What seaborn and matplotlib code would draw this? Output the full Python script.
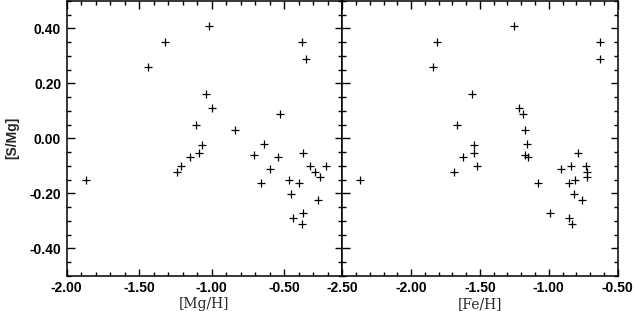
import matplotlib
matplotlib.use("Agg")
import matplotlib.pyplot as plt
import seaborn as sns
import pandas as pd
from matplotlib.ticker import MultipleLocator, FormatStrFormatter

# star-by-star abundances
mg_h = [-1.02, -1.32, -0.38, -0.35, -1.44, -1.04, -1.00, -0.53, -1.11, -0.84,
        -0.64, -1.07, -1.09, -0.37, -0.71, -1.15, -0.54, -1.21, -0.32, -0.21,
        -0.60, -1.24, -0.29, -0.25, -1.87, -0.47, -0.66, -0.40, -0.45, -0.27,
        -0.37, -0.44, -0.38]
fe_h = [-1.25, -1.81, -0.63, -0.63, -1.84, -1.56, -1.22, -1.19, -1.67, -1.17,
        -1.16, -1.54, -1.54, -0.79, -1.17, -1.62, -1.15, -1.52, -0.84, -0.73,
        -0.91, -1.69, -0.72, -0.72, -2.37, -0.81, -1.08, -0.85, -0.82, -0.76,
        -0.99, -0.85, -0.83]
s_mg = [0.41, 0.35, 0.35, 0.29, 0.26, 0.16, 0.11, 0.09, 0.05, 0.03,
        -0.021, -0.026, -0.052, -0.052, -0.059, -0.068, -0.068, -0.101, -0.101, -0.101,
        -0.110, -0.121, -0.121, -0.140, -0.150, -0.150, -0.161, -0.164, -0.201, -0.225,
        -0.270, -0.291, -0.310]

df = pd.DataFrame({"[Mg/H]": mg_h, "[Fe/H]": fe_h, "[S/Mg]": s_mg})

sns.set_style("ticks")
plt.rcParams['font.family'] = ['Liberation Sans', 'DejaVu Sans']

fig = plt.figure(figsize=(6.36, 3.11), dpi=100)
left, right, bottom, top = 0.1049, 0.9712, 0.1132, 0.9975
w = (right - left) / 2
ax1 = fig.add_axes([left, bottom, w, top - bottom])
ax2 = fig.add_axes([left + w, bottom, w, top - bottom], sharey=ax1)

sns.scatterplot(data=df, x="[Mg/H]", y="[S/Mg]", marker="+", color="black",
                s=34, linewidth=0.9, ax=ax1)
sns.scatterplot(data=df, x="[Fe/H]", y="[S/Mg]", marker="+", color="black",
                s=34, linewidth=0.9, ax=ax2)

ax1.set_xlim(-2.0, -0.1)
ax2.set_xlim(-2.5, -0.5)
ax1.set_ylim(-0.5, 0.5)

for ax in (ax1, ax2):
    ax.xaxis.set_major_locator(MultipleLocator(0.5))
    ax.xaxis.set_minor_locator(MultipleLocator(0.1))
    ax.yaxis.set_major_locator(MultipleLocator(0.2))
    ax.yaxis.set_minor_locator(MultipleLocator(0.05))
    ax.xaxis.set_major_formatter(FormatStrFormatter("%.2f"))
    ax.yaxis.set_major_formatter(FormatStrFormatter("%.2f"))
    ax.tick_params(which="both", direction="in", top=True, right=True,
                   width=1.0, colors="black")
    ax.tick_params(which="major", length=5.4, pad=4)
    ax.tick_params(which="minor", length=3.1)
    for lab in ax.get_xticklabels() + ax.get_yticklabels():
        lab.set_fontsize(10)
        lab.set_fontweight("bold")
    for sp in ax.spines.values():
        sp.set_linewidth(1.1)
        sp.set_color("black")
    ax.set_xlabel(ax.get_xlabel(), family="DejaVu Serif", fontsize=10, labelpad=1)

ax2.tick_params(labelleft=False)
ax2.set_ylabel("")
ax1.set_ylabel("[S/Mg]", fontsize=10, fontweight="bold", labelpad=7)

fig.savefig("out.png", dpi=100)
